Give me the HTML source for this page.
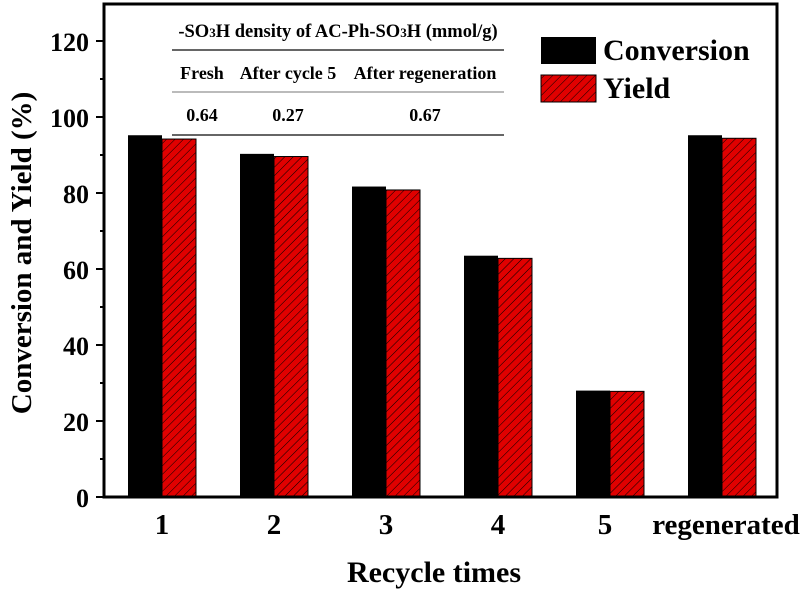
<!DOCTYPE html>
<html><head><meta charset="utf-8"><style>
html,body{margin:0;padding:0;background:#fff;}
svg{display:block;font-family:"Liberation Serif",serif;font-weight:bold;}
</style></head><body>
<svg id="chart" width="802" height="590" viewBox="0 0 802 590">
<defs>
<pattern id="hatch" patternUnits="userSpaceOnUse" width="6" height="6" patternTransform="rotate(45)">
<rect width="6" height="6" fill="#e00000"/>
<line x1="0" y1="0" x2="0" y2="6" stroke="#000" stroke-width="1"/>
</pattern>
</defs>
<g id="bars"></g>
<g id="axes"></g>
<g>
<text x="338" y="37" font-size="18.5" text-anchor="middle">-SO<tspan font-size="13">3</tspan>H density of AC-Ph-SO<tspan font-size="13">3</tspan>H (mmol/g)</text>
<line x1="172" y1="50" x2="504" y2="50" stroke="#333" stroke-width="1.5"/>
<text x="202" y="79" font-size="18" text-anchor="middle">Fresh</text>
<text x="288" y="79" font-size="18" text-anchor="middle">After cycle 5</text>
<text x="425" y="79" font-size="18" text-anchor="middle">After regeneration</text>
<line x1="172" y1="92" x2="504" y2="92" stroke="#777" stroke-width="1"/>
<text x="202" y="121" font-size="18" text-anchor="middle">0.64</text>
<text x="288" y="121" font-size="18" text-anchor="middle">0.27</text>
<text x="425" y="121" font-size="18" text-anchor="middle">0.67</text>
<line x1="172" y1="135" x2="504" y2="135" stroke="#333" stroke-width="1.5"/>
</g>
<g>
<rect x="541" y="37" width="55" height="27" fill="#000"/>
<text x="603" y="60" font-size="30">Conversion</text>
<rect x="541" y="75" width="55" height="27" fill="url(#hatch)" stroke="#000" stroke-width="1"/>
<text x="603" y="98" font-size="30">Yield</text>
</g>
<text transform="translate(31,253) rotate(-90)" font-size="29" text-anchor="middle">Conversion and Yield (%)</text>
<text x="434" y="582" font-size="30" text-anchor="middle">Recycle times</text>
</svg>
<script>
const categories = ["1","2","3","4","5","regenerated"];
const conversion = [95.2, 90.3, 81.7, 63.5, 28.0, 95.2];
const yieldVals = [94.2, 89.6, 80.8, 62.8, 27.8, 94.4];
const yTicks = [0,20,40,60,80,100,120];

const NS="http://www.w3.org/2000/svg";
const L=104,R=777,T=4,B=497;
const y=v=>B-v*(76/20);
const xc=i=>162+112*i;
const bw=34;
const bars=document.getElementById('bars'), axes=document.getElementById('axes');
function mk(tag,attrs,parent){const e=document.createElementNS(NS,tag);for(const k in attrs)e.setAttribute(k,attrs[k]);parent.appendChild(e);return e;}
categories.forEach((c,i)=>{
  const b=mk('rect',{x:xc(i)-bw,y:y(conversion[i]),width:bw,height:B-y(conversion[i]),fill:'#000'},bars);
  
  
  const r=mk('rect',{x:xc(i),y:y(yieldVals[i]),width:bw,height:B-y(yieldVals[i]),fill:'url(#hatch)',stroke:'#000','stroke-width':1},bars);
  
  
  const t=mk('text',{x:c==='regenerated'?xc(i)+4:xc(i)-(i===4?5:0),y:534,'font-size':29,'text-anchor':'middle'},axes);
  t.textContent=c;
  
  
});
const fr=mk('rect',{x:L,y:T,width:R-L,height:B-T,fill:'none',stroke:'#000','stroke-width':3},axes);


for(let v=0;v<=120;v+=10){
  const major=v%20===0;
  const tk=mk('line',{x1:L-(major?8:4),x2:L,y1:y(v),y2:y(v),stroke:'#000','stroke-width':2},axes);
  
  
}
yTicks.forEach(v=>{
  const t=mk('text',{x:89,y:y(v)+10,'font-size':26,'text-anchor':'end'},axes);
  t.textContent=v;
  
  
});
</script>
</body></html>
